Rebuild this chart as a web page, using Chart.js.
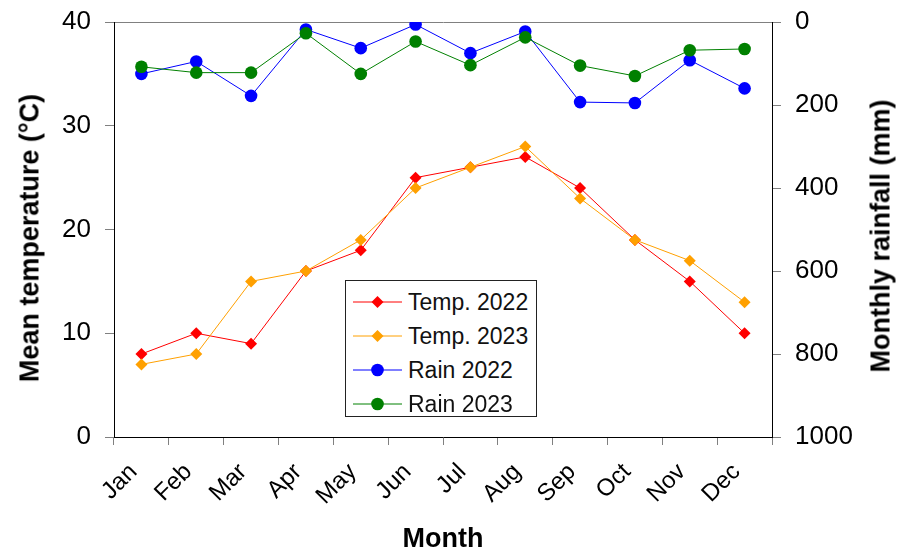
<!DOCTYPE html>
<html>
<head>
<meta charset="utf-8">
<script src="https://cdn.jsdelivr.net/npm/chart.js@4.4.1/dist/chart.umd.min.js"></script>
<style>
  body { margin: 0; background: #fff; }
  #box { position: relative; width: 901px; height: 553px; }
  #legenda {
    position: absolute; left: 345px; top: 280px; width: 192px; height: 137px;
    box-sizing: border-box; border: 1px solid #222; background: #fff;
    padding-top: 4px; font-family: "Liberation Sans", Arial, sans-serif; font-size: 23px; color: #111;
  }
  .riga { display: flex; align-items: center; height: 34px; }
  .riga svg { margin-left: 7px; margin-right: 6px; }
  .titoloY {
    position: absolute; width: 30px; height: 0;
    font-family: "Liberation Sans", Arial, sans-serif; font-size: 27px; font-weight: bold; color: #000;
  }
  .titoloY span {
    position: absolute; left: 50%; top: 0; white-space: nowrap;
    transform: translate(-50%, -50%) rotate(-90deg); line-height: 1;
  }
  #titoloSx { left: 15px; top: 238px; }
  #titoloDx { left: 866px; top: 236px; }
</style>
</head>
<body>
<div id="box">
  <canvas id="grafico"></canvas>
  <div id="legenda"></div>
  <div id="titoloSx" class="titoloY"><span>Mean temperature (°C)</span></div>
  <div id="titoloDx" class="titoloY"><span>Monthly rainfall (mm)</span></div>
</div>
<script>
// dati
var mesi = ["Jan","Feb","Mar","Apr","May","Jun","Jul","Aug","Sep","Oct","Nov","Dec"];
var temp2022 = [8, 10, 9, 16, 18, 25, 26, 27, 24, 19, 15, 10];
var temp2023 = [7, 8, 15, 16, 19, 24, 26, 28, 23, 19, 17, 13];
var pioggia2022 = [125, 95, 178, 18, 63, 6, 75, 23, 193, 195, 92, 160];
var pioggia2023 = [108, 122, 122, 27, 125, 47, 104, 37, 105, 130, 68, 65];
var tickTemp = [0, 10, 20, 30, 40];
var tickPioggia = [0, 200, 400, 600, 800, 1000];

var font = "'Liberation Sans', Arial, sans-serif";

window.onload = function(){
    var serie = [
        {label: "Temp. 2022", data: temp2022, colore: "#ff0000", stile: "rectRot", asse: "y", ordine: 4},
        {label: "Temp. 2023", data: temp2023, colore: "#ffa000", stile: "rectRot", asse: "y", ordine: 3},
        {label: "Rain 2022", data: pioggia2022, colore: "#0000ff", stile: "circle", asse: "y2", ordine: 2},
        {label: "Rain 2023", data: pioggia2023, colore: "#008000", stile: "circle", asse: "y2", ordine: 1}
    ];

    var datasets = [];
    for(let s of serie){
        datasets.push({
            label: s.label,
            data: s.data,
            yAxisID: s.asse,
            order: s.ordine,
            borderColor: s.colore,
            backgroundColor: s.colore,
            borderWidth: 1,
            pointStyle: s.stile,
            pointRadius: s.stile == "circle" ? 6.3 : 6,
            pointBorderWidth: 0,
            pointHoverRadius: 6,
            tension: 0
        });
    }

    var grafico = new Chart(document.getElementById("grafico"), {
        type: "line",
        data: { labels: mesi, datasets: datasets },
        options: {
            responsive: true,
            maintainAspectRatio: false,
            animation: false,
            layout: { padding: { top: 22, left: 0, right: 0, bottom: 0 } },
            plugins: { legend: { display: false }, tooltip: { enabled: false } },
            scales: {
                x: {
                    offset: true,
                    grid: { offset: true, drawOnChartArea: false, tickLength: 8, tickColor: "#808080" },
                    border: { color: "#000", width: 1 },
                    ticks: { minRotation: 45, maxRotation: 45, color: "#000", font: { family: font, size: 24 }, padding: 13, labelOffset: -8 },
                    title: { display: true, text: "Month", color: "#000", font: { family: font, size: 27, weight: "bold", lineHeight: 1 }, padding: 0 },
                    afterFit: function(scala){ scala.height = 116; scala.paddingLeft = 0; scala.paddingRight = 0; }
                },
                y: {
                    position: "left",
                    min: 0, max: 40,
                    afterBuildTicks: function(scala){ scala.ticks = tickTemp.map(v => ({value: v})); },
                    grid: {
                        drawOnChartArea: true, tickLength: 9, tickColor: "#808080",
                        color: function(c){ return c.tick && c.tick.value == 40 ? "#808080" : "rgba(0,0,0,0)"; }
                    },
                    border: { color: "#000", width: 1 },
                    ticks: { color: "#000", font: { family: font, size: 26 }, padding: 14 },
                    afterFit: function(scala){ scala.width = 114; scala.paddingTop = 0; scala.paddingBottom = 0; }
                },
                y2: {
                    position: "right",
                    reverse: true,
                    min: 0, max: 1000,
                    afterBuildTicks: function(scala){ scala.ticks = tickPioggia.map(v => ({value: v})); },
                    grid: { drawOnChartArea: false, tickLength: 9, tickColor: "#808080" },
                    border: { color: "#000", width: 1 },
                    ticks: { color: "#000", font: { family: font, size: 26 }, padding: 14, callback: function(v){ return String(v); } },
                    afterFit: function(scala){ scala.width = 129; scala.paddingTop = 0; scala.paddingBottom = 0; }
                }
            }
        }
    });

    // legenda dentro l'area del grafico
    var html = "";
    for(let s of serie){
        let marker = s.stile == "circle"
            ? `<circle cx="24.5" cy="10" r="6.3" fill="${s.colore}"/>`
            : `<polygon points="24.5,4 30.5,10 24.5,16 18.5,10" fill="${s.colore}"/>`;
        html += `<div class="riga"><svg width="49" height="20"><line x1="0" y1="10" x2="49" y2="10" stroke="${s.colore}" stroke-width="1"/>${marker}</svg><span>${s.label}</span></div>`;
    }
    document.getElementById("legenda").innerHTML = html;
};
</script>
</body>
</html>
